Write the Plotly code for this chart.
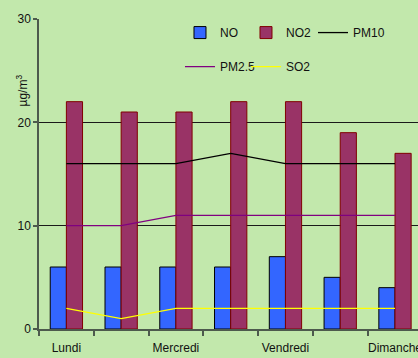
import plotly.graph_objects as go

# Daily pollutant concentrations (µg/m³)
days = ["Lundi", "Mardi", "Mercredi", "Jeudi", "Vendredi", "Samedi", "Dimanche"]
day_labels = ["Lundi", "", "Mercredi", "", "Vendredi", "", "Dimanche"]
no_vals = [6, 6, 6, 6, 7, 5, 4]
no2_vals = [22, 21, 21, 22, 22, 19, 17]
pm10_vals = [16, 16, 16, 17, 16, 16, 16]
pm25_vals = [10, 10, 11, 11, 11, 11, 11]
so2_vals = [2, 1, 2, 2, 2, 2, 2]
y_ticks = [0, 10, 20, 30]

BG = "#C2E8AC"
FONT = dict(family="Liberation Sans, Arial, sans-serif", size=12, color="#111111")

fig = go.Figure()
fig.add_trace(go.Bar(x=days, y=no_vals, name="NO", marker=dict(color="#3366FF", line=dict(color="#000000", width=1)), legend="legend"))
fig.add_trace(go.Bar(x=days, y=no2_vals, name="NO2", marker=dict(color="#993366", line=dict(color="#800000", width=1)), legend="legend"))
fig.add_trace(go.Scatter(x=days, y=pm10_vals, name="PM10", mode="lines", line=dict(color="#000000", width=1.3), legend="legend3"))
fig.add_trace(go.Scatter(x=days, y=pm25_vals, name="PM2.5", mode="lines", line=dict(color="#800080", width=1.3), legend="legend2"))
fig.add_trace(go.Scatter(x=days, y=so2_vals, name="SO2", mode="lines", line=dict(color="#FFFF00", width=1.3), legend="legend2"))

legend_common = dict(orientation="h", xanchor="left", yanchor="top", bgcolor="rgba(0,0,0,0)",
                     font=FONT, traceorder="normal")

fig.update_layout(
    width=418, height=358,
    margin=dict(l=39, r=0, t=19, b=29, autoexpand=False),
    paper_bgcolor=BG, plot_bgcolor=BG,
    font=FONT,
    barmode="group", bargap=0.41, bargroupgap=0,
    showlegend=True,
    legend=dict(x=0.372, y=1.003, entrywidth=21, entrywidthmode="pixels", **legend_common),
    legend2=dict(x=0.372, y=0.893, entrywidth=21, entrywidthmode="pixels", **legend_common),
    legend3=dict(x=0.723, y=1.003, **legend_common),
    xaxis=dict(
        type="category", categoryorder="array", categoryarray=days,
        range=[-0.5, 6.42], automargin=False,
        tickmode="array", tickvals=days, ticktext=day_labels, tickangle=0,
        ticklabelstandoff=7,
        tickson="boundaries", ticks="outside", ticklen=5, tickcolor="#4d5a4d", tickwidth=1.5,
        showline=True, linecolor="#4d5a4d", linewidth=1.5,
        showgrid=False, zeroline=False,
    ),
    yaxis=dict(
        range=[0, 30], tickmode="array", tickvals=y_ticks, automargin=False,
        ticks="outside", ticklen=4, tickcolor="#4d5a4d", tickwidth=1.5,
        showline=True, linecolor="#4d5a4d", linewidth=1.5,
        showgrid=True, gridcolor="#1a1a1a", gridwidth=1,
        zeroline=False,
    ),
    annotations=[dict(
        text="µg/m<sup>3</sup>", textangle=-90, xref="paper", yref="paper",
        x=-0.046, y=0.768, xanchor="center", yanchor="middle", showarrow=False, font=FONT,
    )],
)

fig.write_html("out.html")
